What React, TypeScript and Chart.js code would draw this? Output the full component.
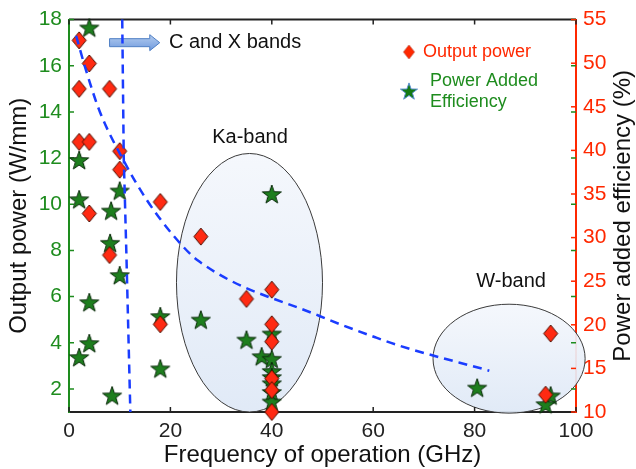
import React, { useEffect, useRef } from 'react';
import { Chart, registerables } from 'chart.js';

Chart.register(...registerables);

// ---- data ----
const powerFreq = [2, 4, 2, 8, 2, 4, 10, 10, 18, 4, 8, 18, 26, 35, 40, 40, 40, 40, 40, 40, 95, 94];
const powerValues = [17.1, 16.1, 15.0, 15.0, 12.7, 12.7, 12.3, 11.5, 10.1, 9.6, 7.8, 4.8, 8.6, 5.9, 6.3, 4.8, 4.05, 2.45, 1.95, 1.0, 4.4, 1.75];

const paeFreq = [4, 2, 2, 10, 8.3, 8.1, 10, 4, 4, 2, 8.5, 18, 18, 26, 40, 35, 38, 40, 40, 40, 40, 40, 40, 40, 80.5, 95, 94];
const paeValues = [54.1, 38.9, 34.4, 35.4, 33.1, 29.4, 25.7, 22.6, 17.9, 16.3, 11.9, 21.0, 15.0, 20.6, 35.0, 18.3, 16.4, 19.0, 16.1, 14.7, 14.0, 13.3, 12.3, 11.2, 12.8, 11.9, 10.9];

const trendFreq = [1.4, 3.5, 6.1, 11, 15.3, 20.5, 25.5, 49.4, 60.6, 65.2, 82.9];
const trendPower = [17.3, 15.7, 14.0, 11.8, 10.2, 8.67, 7.55, 5.16, 4.22, 3.87, 2.79];

const cxBoundFreq = [10.5, 10.8, 11.3, 12.1];
const cxBoundPower = [18, 12, 8, 1];

const freqTicks = [0, 20, 40, 60, 80, 100];
const powerTicks = [2, 4, 6, 8, 10, 12, 14, 16, 18];
const paeTicks = [10, 15, 20, 25, 30, 35, 40, 45, 50, 55];

const bandNames = ['Ka-band', 'W-band'];

// ---- annotation geometry (data units) ----
const bandEllipses = [
  { cx: 35.6, cy: 6.6, rx: 14.4, ry: 5.6, lx: 35.7, ly: 12.9 },
  { cx: 86.8, cy: 3.31, rx: 15.0, ry: 2.36, lx: 87.2, ly: 6.66 },
];

const GREEN = '#1e8c1e';
const RED = '#ff2800';
const BLUE = '#1a3cff';
const FONT = '"Liberation Sans", Arial, Helvetica, sans-serif';

function makeDiamond(w: number, h: number, fill: string, stroke: string, lw: number) {
  const c = document.createElement('canvas');
  c.width = w + 4;
  c.height = h + 4;
  const ctx = c.getContext('2d')!;
  const cx = c.width / 2, cy = c.height / 2;
  ctx.beginPath();
  ctx.moveTo(cx, cy - h / 2);
  ctx.lineTo(cx + w / 2, cy);
  ctx.lineTo(cx, cy + h / 2);
  ctx.lineTo(cx - w / 2, cy);
  ctx.closePath();
  ctx.fillStyle = fill;
  ctx.fill();
  if (lw > 0) {
    ctx.lineWidth = lw;
    ctx.strokeStyle = stroke;
    ctx.stroke();
  }
  return c;
}

function starPath(ctx: CanvasRenderingContext2D, cx: number, cy: number, R: number, r: number) {
  ctx.beginPath();
  for (let i = 0; i < 10; i++) {
    const ang = -Math.PI / 2 + (i * Math.PI) / 5;
    const rad = i % 2 === 0 ? R : r;
    const x = cx + rad * Math.cos(ang);
    const y = cy + rad * Math.sin(ang);
    if (i === 0) ctx.moveTo(x, y);
    else ctx.lineTo(x, y);
  }
  ctx.closePath();
}

function makeStar(R: number, r: number, fill: string, stroke: string, lw: number) {
  const c = document.createElement('canvas');
  const s = Math.ceil(R * 2 + 4);
  c.width = s;
  c.height = s;
  const ctx = c.getContext('2d')!;
  starPath(ctx, s / 2, s / 2 + R * 0.1, R, r);
  ctx.fillStyle = fill;
  ctx.fill();
  ctx.lineWidth = lw;
  ctx.strokeStyle = stroke;
  ctx.lineJoin = 'miter';
  ctx.stroke();
  return c;
}

const decorPlugin = {
  id: 'decor',
  beforeDatasetsDraw(chart: any) {
    const { ctx, chartArea: a, scales } = chart;
    const xs = scales.x, yl = scales.y, yr = scales.y1;
    ctx.save();
    // ellipses
    bandEllipses.forEach((e, i) => {
      const cx = xs.getPixelForValue(e.cx), cy = yl.getPixelForValue(e.cy);
      const rx = Math.abs(xs.getPixelForValue(e.cx + e.rx) - cx);
      const ry = Math.abs(yl.getPixelForValue(e.cy + e.ry) - cy);
      ctx.beginPath();
      ctx.ellipse(cx, cy, rx, ry, 0, 0, Math.PI * 2);
      const g = ctx.createLinearGradient(0, cy - ry, 0, cy + ry);
      g.addColorStop(0, 'rgba(244,247,252,0.92)');
      g.addColorStop(1, 'rgba(222,232,246,0.92)');
      ctx.fillStyle = g;
      ctx.fill();
      ctx.lineWidth = 1;
      ctx.strokeStyle = '#3a3a3a';
      ctx.stroke();
      ctx.fillStyle = '#111';
      ctx.font = `20px ${FONT}`;
      ctx.textAlign = 'center';
      ctx.textBaseline = 'middle';
      ctx.fillText(bandNames[i], xs.getPixelForValue(e.lx), yl.getPixelForValue(e.ly));
    });

    // top border
    ctx.strokeStyle = '#222';
    ctx.lineWidth = 2;
    ctx.beginPath();
    ctx.moveTo(a.left, a.top);
    ctx.lineTo(a.right, a.top);
    ctx.stroke();

    // inward ticks
    const TL = 5;
    ctx.lineWidth = 1.5;
    ctx.strokeStyle = '#222';
    freqTicks.forEach((v) => {
      const x = xs.getPixelForValue(v);
      ctx.beginPath();
      ctx.moveTo(x, a.bottom);
      ctx.lineTo(x, a.bottom - TL);
      ctx.moveTo(x, a.top);
      ctx.lineTo(x, a.top + TL);
      ctx.stroke();
    });
    ctx.strokeStyle = GREEN;
    powerTicks.forEach((v) => {
      const y = yl.getPixelForValue(v);
      ctx.beginPath();
      ctx.moveTo(a.left, y);
      ctx.lineTo(a.left + TL, y);
      ctx.moveTo(a.right, y);
      ctx.lineTo(a.right - TL, y);
      ctx.stroke();
    });
    ctx.strokeStyle = RED;
    paeTicks.forEach((v) => {
      const y = yr.getPixelForValue(v);
      ctx.beginPath();
      ctx.moveTo(a.right, y);
      ctx.lineTo(a.right - TL, y);
      ctx.stroke();
    });

    // C and X arrow
    const ax0 = xs.getPixelForValue(8.0), ax1 = xs.getPixelForValue(17.9);
    const ay = yl.getPixelForValue(17.0);
    const head = 10;
    ctx.beginPath();
    ctx.moveTo(ax0, ay - 4);
    ctx.lineTo(ax1 - head, ay - 4);
    ctx.lineTo(ax1 - head, ay - 8);
    ctx.lineTo(ax1, ay);
    ctx.lineTo(ax1 - head, ay + 8);
    ctx.lineTo(ax1 - head, ay + 4);
    ctx.lineTo(ax0, ay + 4);
    ctx.closePath();
    const ag = ctx.createLinearGradient(0, ay - 8, 0, ay + 8);
    ag.addColorStop(0, '#b5cdef');
    ag.addColorStop(1, '#6f9ade');
    ctx.fillStyle = ag;
    ctx.fill();
    ctx.lineWidth = 1;
    ctx.strokeStyle = '#4f7fc4';
    ctx.stroke();
    ctx.fillStyle = '#111';
    ctx.font = `20px ${FONT}`;
    ctx.textAlign = 'left';
    ctx.textBaseline = 'middle';
    ctx.fillText('C and X bands', xs.getPixelForValue(19.7), ay);
    ctx.restore();
  },
  afterDraw(chart: any) {
    const { ctx, chartArea: a } = chart;
    ctx.save();
    // legend
    const d = makeDiamond(11, 14, RED, '#a01800', 0.5);
    ctx.drawImage(d, 409 - d.width / 2, 52 - d.height / 2);
    const s = makeStar(9, 3.6, '#147a14', '#5b8fd0', 1);
    ctx.drawImage(s, 409 - s.width / 2, 91 - s.height / 2);
    ctx.font = `18px ${FONT}`;
    ctx.textAlign = 'left';
    ctx.textBaseline = 'middle';
    ctx.fillStyle = RED;
    ctx.fillText('Output power', 423, 52);
    ctx.fillStyle = GREEN;
    ctx.fillText('Power Added', 430, 81.5);
    ctx.fillText('Efficiency', 430, 102);

    // axis titles
    ctx.fillStyle = '#111';
    ctx.font = `24px ${FONT}`;
    ctx.textAlign = 'center';
    ctx.textBaseline = 'middle';
    const cy = (a.top + a.bottom) / 2;
    ctx.fillText('Frequency of operation (GHz)', (a.left + a.right) / 2, 455);
    ctx.save();
    ctx.translate(19, cy);
    ctx.rotate(-Math.PI / 2);
    ctx.fillText('Output power (W/mm)', 0, 0);
    ctx.restore();
    ctx.save();
    ctx.translate(623, cy);
    ctx.rotate(-Math.PI / 2);
    ctx.fillText('Power added efficiency (%)', 0, 0);
    ctx.restore();
    ctx.restore();
  },
};

export default function App() {
  const ref = useRef<HTMLCanvasElement>(null);
  useEffect(() => {
    document.body.style.margin = '0';
    const canvas = ref.current!;
    const diamond = makeDiamond(14, 17, '#ff2a12', '#4a0e00', 1);
    const star = makeStar(10, 4, '#1e7e1e', '#0a2a0a', 1);
    const tickFont = { family: FONT, size: 21 };
    const chart = new Chart(canvas, {
      type: 'scatter',
      data: {
        datasets: [
          {
            label: 'C/X boundary',
            data: cxBoundFreq.map((f, i) => ({ x: f, y: cxBoundPower[i] })),
            showLine: true,
            borderColor: BLUE,
            borderWidth: 2.5,
            borderDash: [9, 6],
            pointRadius: 0,
            tension: 0,
            yAxisID: 'y',
            clip: false,
          } as any,
          {
            label: 'Trend',
            data: trendFreq.map((f, i) => ({ x: f, y: trendPower[i] })),
            showLine: true,
            borderColor: BLUE,
            borderWidth: 2.5,
            borderDash: [9, 6],
            pointRadius: 0,
            cubicInterpolationMode: 'monotone',
            yAxisID: 'y',
            clip: false,
          } as any,
          {
            label: 'Output power',
            data: powerFreq.map((f, i) => ({ x: f, y: powerValues[i] })),
            pointStyle: diamond,
            pointRadius: 8,
            yAxisID: 'y',
            clip: false,
          } as any,
          {
            label: 'Power Added Efficiency',
            data: paeFreq.map((f, i) => ({ x: f, y: paeValues[i] })),
            pointStyle: star,
            pointRadius: 10,
            yAxisID: 'y1',
            clip: false,
          } as any,
        ],
      },
      options: {
        responsive: false,
        animation: false,
        events: [],
        layout: { padding: { top: 16, left: 0, right: 0, bottom: 0 } },
        plugins: { legend: { display: false }, tooltip: { enabled: false } },
        scales: {
          x: {
            type: 'linear',
            position: 'bottom',
            min: 0,
            max: 100,
            afterBuildTicks: (sc: any) => {
              sc.ticks = freqTicks.map((v) => ({ value: v }));
            },
            afterFit: (sc: any) => {
              sc.height = 57;
            },
            grid: { display: false, drawTicks: false },
            border: { display: true, color: '#222', width: 2 },
            ticks: { color: '#222', font: tickFont, padding: 7, autoSkip: false, maxRotation: 0 },
          },
          y: {
            type: 'linear',
            position: 'left',
            min: 1,
            max: 18,
            afterBuildTicks: (sc: any) => {
              sc.ticks = powerTicks.map((v) => ({ value: v }));
            },
            afterFit: (sc: any) => {
              sc.width = 69;
            },
            grid: { display: false, drawTicks: false },
            border: { display: true, color: GREEN, width: 2 },
            ticks: { color: GREEN, font: tickFont, padding: 7, autoSkip: false },
          },
          y1: {
            type: 'linear',
            position: 'right',
            min: 10,
            max: 55,
            afterBuildTicks: (sc: any) => {
              sc.ticks = paeTicks.map((v) => ({ value: v }));
            },
            afterFit: (sc: any) => {
              sc.width = 60;
            },
            grid: { display: false, drawTicks: false },
            border: { display: true, color: RED, width: 2 },
            ticks: { color: RED, font: tickFont, padding: 7, autoSkip: false },
          },
        },
      } as any,
      plugins: [decorPlugin],
    });
    return () => chart.destroy();
  }, []);
  return (
    <canvas
      ref={ref}
      width={636}
      height={469}
      style={{ display: 'block', position: 'absolute', left: 0, top: 0 }}
    />
  );
}
